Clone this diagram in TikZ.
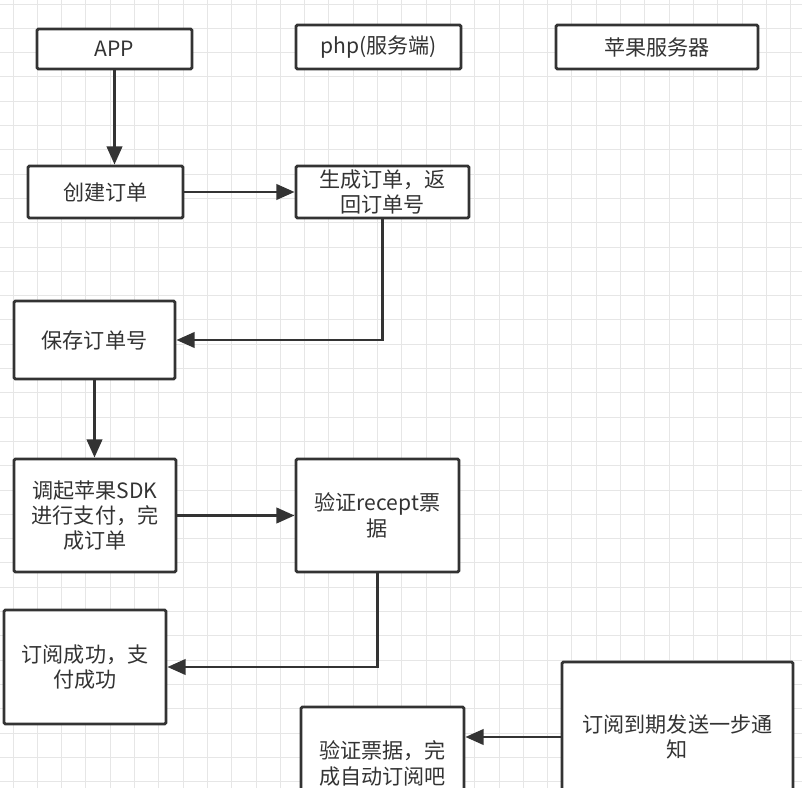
\documentclass[tikz,border=0pt]{standalone}
\usepackage{fontspec}
\setmainfont{Noto Sans CJK SC}
\usepackage{tikz}
\usetikzlibrary{arrows.meta,calc}
\usepackage{xcolor}
\definecolor{linegray}{HTML}{333333}
\definecolor{gridgray}{HTML}{E6E6E6}

\tikzset{
  stepbox/.style={rectangle,draw=linegray,line width=2pt,fill=white,rounded corners=1pt,
    align=center,font=\fontsize{15}{18}\selectfont,text=linegray,inner sep=2pt},
  flow/.style={draw=linegray,line width=2pt,-{Triangle[length=13pt,width=11pt]}}
}

\begin{document}
\begin{tikzpicture}[x=0.025cm,y=-0.025cm]
\useasboundingbox (0,0) rectangle (802,788);
\clip (0,0) rectangle (802,788);
\fill[white] (0,0) rectangle (802,788);
% grid
\foreach \k in {0,...,32} {
    \draw[gridgray,line width=0.6pt] ({13+24.3*\k},0) -- ({13+24.3*\k},788);
    \draw[gridgray,line width=0.6pt] (0,{4+24.3*\k}) -- (802,{4+24.3*\k});
}
% column headers
\node[stepbox,minimum width=3.875cm,minimum height=1.0cm] (app) at (114.5,49) {APP};
\node[stepbox,minimum width=4.125cm,minimum height=1.1cm] (php) at (378.5,47) {php(服务端)};
\node[stepbox,minimum width=5.05cm,minimum height=1.1cm] (apple) at (657,47) {苹果服务器};
% steps
\node[stepbox,minimum width=3.875cm,minimum height=1.3cm] (create) at (105.5,192) {创建订单};
\node[stepbox,minimum width=4.325cm,minimum height=1.3cm] (order) at (382.5,192) {生成订单，返\\回订单号};
\node[stepbox,minimum width=4.025cm,minimum height=1.95cm] (save) at (94.5,340) {保存订单号};
\node[stepbox,minimum width=4.05cm,minimum height=2.825cm] (pay) at (95,515.5) {调起苹果SDK\\进行支付，完\\成订单};
\node[stepbox,minimum width=4.075cm,minimum height=2.825cm] (receipt) at (377.5,515.5) {验证recept票\\据};
\node[stepbox,minimum width=4.05cm,minimum height=2.85cm] (success) at (85,667) {订阅成功，支\\付成功};
\node[stepbox,minimum width=4.075cm,minimum height=2.825cm] (ticket) at (382.5,763.5) {验证票据，完\\成自动订阅吧};
\node[stepbox,minimum width=5.775cm,minimum height=3.75cm] (notify) at (677.5,737) {订阅到期发送一步通\\知};
% connectors
\draw[flow] (app.south) -- (app.south |- create.north);
\draw[flow] (create.east) -- (order.west);
\draw[flow] (order.south) |- (save.east);
\draw[flow] (save.south) -- (save.south |- pay.north);
\draw[flow] (pay.east) -- (receipt.west);
\draw[flow] (receipt.south) |- (success.east);
\draw[flow] (notify.west) -- (notify.west -| ticket.east);
\end{tikzpicture}
\end{document}
